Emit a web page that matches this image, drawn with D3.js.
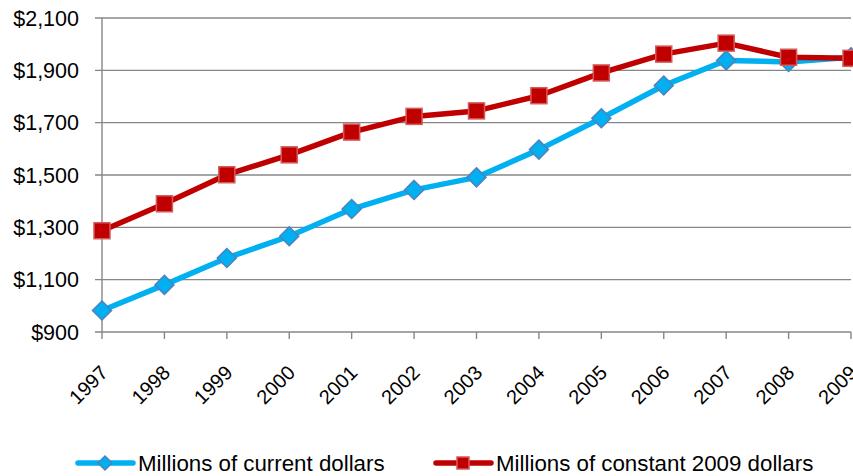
<!DOCTYPE html>
<html>
<head>
<meta charset="utf-8">
<script src="https://cdn.jsdelivr.net/npm/d3@7/dist/d3.min.js"></script>
<style>
html,body{margin:0;padding:0;background:#fff;}
svg{display:block;}
text{font-family:"Liberation Sans",Arial,sans-serif;fill:#000;}
</style>
</head>
<body>
<svg id="chart" width="853" height="476"></svg>
<script>
const years = ["1997","1998","1999","2000","2001","2002","2003","2004","2005","2006","2007","2008","2009"];
const currentDollars = [982, 1080, 1183, 1266, 1370, 1443, 1491, 1597, 1717, 1842, 1938, 1932, 1950];
const constantDollars = [1287, 1390, 1501, 1577, 1664, 1724, 1745, 1803, 1890, 1962, 2004, 1950, 1946];
const yTicks = [900, 1100, 1300, 1500, 1700, 1900, 2100];
const seriesNames = ["Millions of current dollars", "Millions of constant 2009 dollars"];

const svg = d3.select("#chart");
const plotLeft = 102, plotRight = 851, plotTop = 18, plotBottom = 332;
const x = d3.scalePoint().domain(years).range([plotLeft, plotRight]);
const y = d3.scaleLinear().domain([900, 2100]).range([plotBottom, plotTop]);
const grid = "#878787";
const fmt = d => "$" + d3.format(",")(d);

// gridlines
svg.append("g").selectAll("line").data(yTicks).join("line")
  .attr("x1", plotLeft - 7).attr("x2", plotRight)
  .attr("y1", d => y(d)).attr("y2", d => y(d))
  .attr("stroke", grid).attr("stroke-width", 1.4);

// y labels
svg.append("g").selectAll("text").data(yTicks).join("text")
  .attr("x", 79).attr("y", d => y(d)).attr("dy", "0.36em")
  .attr("text-anchor", "end").attr("font-size", 21.5)
  .text(fmt);

// y axis line
svg.append("line").attr("x1", plotLeft).attr("x2", plotLeft).attr("y1", plotTop).attr("y2", plotBottom)
  .attr("stroke", grid).attr("stroke-width", 1.4);

// x ticks
svg.append("g").selectAll("line").data(years).join("line")
  .attr("x1", d => x(d)).attr("x2", d => x(d))
  .attr("y1", plotBottom).attr("y2", plotBottom + 7)
  .attr("stroke", grid).attr("stroke-width", 1.4);

// x labels
svg.append("g").selectAll("text").data(years).join("text")
  .attr("transform", d => `translate(${x(d) + 7},${plotBottom + 42}) rotate(-45)`)
  .attr("text-anchor", "end").attr("font-size", 20)
  .text(d => d);

const line = d3.line().x((d, i) => x(years[i])).y(d => y(d));

const blue = "#00B0F0", blueStroke = "#4F81BD";
const red = "#C00000", redStroke = "#D35B5B";

function diamond(g, cx, cy, r) {
  g.append("path")
    .attr("d", `M${cx},${cy - r}L${cx + r},${cy}L${cx},${cy + r}L${cx - r},${cy}Z`)
    .attr("fill", blue).attr("stroke", blueStroke).attr("stroke-width", 1.5);
}
function square(g, cx, cy, s) {
  g.append("rect").attr("x", cx - s / 2).attr("y", cy - s / 2)
    .attr("width", s).attr("height", s)
    .attr("fill", red).attr("stroke", redStroke).attr("stroke-width", 1.5);
}

// series 1
const g1 = svg.append("g");
g1.append("path").datum(currentDollars).attr("d", line)
  .attr("fill", "none").attr("stroke", blue).attr("stroke-width", 5.5)
  .attr("stroke-linejoin", "round");
currentDollars.forEach((v, i) => diamond(g1, x(years[i]), y(v), 9.5));

// series 2
const g2 = svg.append("g");
g2.append("path").datum(constantDollars).attr("d", line)
  .attr("fill", "none").attr("stroke", red).attr("stroke-width", 5.5)
  .attr("stroke-linejoin", "round");
constantDollars.forEach((v, i) => square(g2, x(years[i]), y(v), 16));

// legend
const lg = svg.append("g");
const ly = 463;
lg.append("line").attr("x1", 78).attr("x2", 133).attr("y1", ly).attr("y2", ly)
  .attr("stroke", blue).attr("stroke-width", 5.5).attr("stroke-linecap", "round");
diamond(lg, 105, ly, 7);
lg.append("text").attr("x", 138).attr("y", ly).attr("dy", "0.36em")
  .attr("font-size", 22.3).text(seriesNames[0]);

lg.append("line").attr("x1", 436).attr("x2", 491).attr("y1", ly).attr("y2", ly)
  .attr("stroke", red).attr("stroke-width", 5.5).attr("stroke-linecap", "round");
square(lg, 463, ly, 12);
lg.append("text").attr("x", 496).attr("y", ly).attr("dy", "0.36em")
  .attr("font-size", 22.3).text(seriesNames[1]);
</script>
</body>
</html>
